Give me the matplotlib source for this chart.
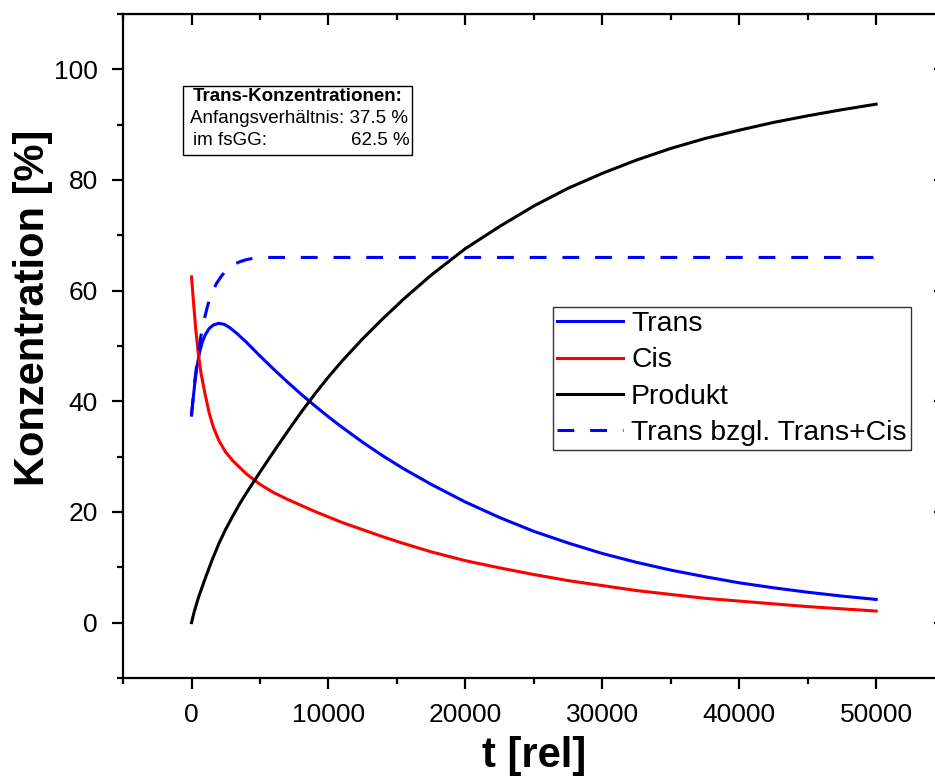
import matplotlib
matplotlib.use("Agg")
import matplotlib.pyplot as plt
from matplotlib.patches import Rectangle
from matplotlib.ticker import MultipleLocator

plt.rcParams['font.family'] = ['Liberation Sans', 'DejaVu Sans']

# values
t_trans = [0, 100, 250, 400, 600, 800, 1000, 1300, 1600, 2000, 2400, 2800, 3300,
           4000, 5000, 6000, 7000, 8000, 9000, 10000, 11000, 12500, 14000, 15500,
           17500, 20000, 22500, 25000, 27500, 30000, 32500, 35000, 37500, 40000,
           42500, 45000, 47500, 50000]
trans = [37.5, 40.0, 43.5, 46.3, 49.0, 50.8, 52.0, 53.2, 53.8, 54.1, 53.9, 53.3, 52.3,
         50.7, 48.2, 45.8, 43.5, 41.3, 39.2, 37.2, 35.3, 32.6, 30.1, 27.8,
         25.0, 21.8, 19.0, 16.5, 14.4, 12.5, 10.9, 9.5, 8.3, 7.2,
         6.3, 5.5, 4.8, 4.2]

t_cis = [0, 150, 300, 500, 700, 1000, 1300, 1600, 2000, 2500, 3000, 3500, 4000,
         5000, 6000, 7000, 8000, 9000, 10000, 11000, 12500, 14000, 15500, 17500,
         20000, 22500, 25000, 27500, 30000, 32500, 35000, 37500, 40000, 42500,
         45000, 47500, 50000]
cis = [62.5, 57.8, 53.3, 48.5, 45.0, 41.2, 37.8, 35.3, 32.9, 30.8, 29.3, 28.1, 26.9,
       25.0, 23.5, 22.3, 21.2, 20.1, 19.1, 18.1, 16.8, 15.5, 14.3, 12.8,
       11.2, 9.9, 8.7, 7.6, 6.7, 5.8, 5.1, 4.4, 3.9, 3.4,
       2.9, 2.5, 2.1]

t_prod = [0, 200, 500, 1000, 1500, 2000, 2500, 3000, 3500, 4000, 4600, 5000, 6000,
          7000, 8000, 9000, 10000, 11000, 12500, 14000, 15500, 17500, 20000, 22500,
          25000, 27500, 30000, 32500, 35000, 37500, 40000, 42500, 45000, 47500, 50000]
produkt = [0, 2.0, 4.5, 8.0, 11.3, 14.3, 16.9, 19.2, 21.4, 23.4, 25.7, 27.2, 30.9,
           34.5, 38.0, 41.3, 44.4, 47.3, 51.3, 55.0, 58.5, 62.8, 67.6, 71.6,
           75.3, 78.5, 81.2, 83.6, 85.7, 87.5, 89.0, 90.4, 91.6, 92.7, 93.7]

t_ratio = [0, 150, 300, 500, 700, 900, 1200, 1500, 1800, 2200, 2600, 3000, 3500,
           4000, 4500, 5000, 10000, 20000, 30000, 40000, 50000]
ratio = [37.5, 41.5, 45.0, 49.0, 52.0, 54.5, 57.5, 59.6, 61.2, 62.7, 63.8, 64.6, 65.2,
         65.6, 65.85, 66.0, 66.0, 66.0, 66.0, 66.0, 66.0]

fig = plt.figure(figsize=(9.35, 7.81), dpi=100)
ax = fig.add_axes([0.1316, 0.1319, 0.8787, 0.8502])

ax.plot(t_trans, trans, color='#0000ff', lw=2.2, label='Trans')
ax.plot(t_cis, cis, color='#ff0000', lw=2.2, label='Cis')
ax.plot(t_prod, produkt, color='black', lw=2.2, label='Produkt')
ax.plot(t_ratio, ratio, color='#0000ff', lw=2.2, dashes=(5.5, 5.2),
        label='Trans bzgl. Trans+Cis')

ax.set_xlim(-5000, 55000)
ax.set_ylim(-10, 110)
ax.xaxis.set_major_locator(MultipleLocator(10000))
ax.xaxis.set_minor_locator(MultipleLocator(5000))
ax.yaxis.set_major_locator(MultipleLocator(20))
ax.yaxis.set_minor_locator(MultipleLocator(10))

for s in ax.spines.values():
    s.set_linewidth(1.6)
ax.tick_params(which='major', direction='out', length=8, width=1.6, labelsize=19)
ax.tick_params(axis='x', which='major', pad=10)
ax.tick_params(axis='y', which='major', pad=10)
ax.tick_params(which='minor', direction='out', length=4, width=1.6)

# mirrored ticks on top and right, pointing inward
top = ax.secondary_xaxis('top')
top.xaxis.set_major_locator(MultipleLocator(10000))
top.xaxis.set_minor_locator(MultipleLocator(5000))
top.tick_params(which='major', direction='in', length=8, width=1.6, labeltop=False)
top.tick_params(which='minor', direction='in', length=4, width=1.6)
right = ax.secondary_yaxis('right')
right.yaxis.set_major_locator(MultipleLocator(20))
right.yaxis.set_minor_locator(MultipleLocator(10))
right.tick_params(which='major', direction='in', length=8, width=1.6, labelright=False)
right.tick_params(which='minor', direction='in', length=4, width=1.6)

ax.set_xlabel('t [rel]', fontsize=30, fontweight='bold', va='top')
ax.set_ylabel('Konzentration [%]', fontsize=30, fontweight='bold')
ax.xaxis.set_label_coords(0.5, -0.087)
ax.yaxis.set_label_coords(-0.085, 0.557)

leg = ax.legend(loc='upper left', bbox_to_anchor=(0.5235, 0.5587), borderaxespad=0,
                fontsize=20.4, frameon=True, fancybox=False, handlelength=2.3,
                handletextpad=0.3, labelspacing=0.36, borderpad=0.15)
leg.get_frame().set_edgecolor('black')
leg.get_frame().set_linewidth(1.0)

# info box
ax.add_patch(Rectangle((0.073, 0.7877), 0.279, 0.1039, transform=ax.transAxes,
                       facecolor='white', edgecolor='black', lw=1.0, zorder=5))
ax.text(0.212, 0.875, 'Trans-Konzentrationen:', transform=ax.transAxes,
        ha='center', va='center', fontsize=13.5, fontweight='bold', zorder=6)
ax.text(0.0815, 0.843, 'Anfangsverhältnis: 37.5 %', transform=ax.transAxes,
        ha='left', va='center', fontsize=13.5, zorder=6)
ax.text(0.0855, 0.810, 'im fsGG:', transform=ax.transAxes,
        ha='left', va='center', fontsize=13.5, zorder=6)
ax.text(0.349, 0.810, '62.5 %', transform=ax.transAxes,
        ha='right', va='center', fontsize=13.5, zorder=6)

fig.savefig('out.png', dpi=100)
